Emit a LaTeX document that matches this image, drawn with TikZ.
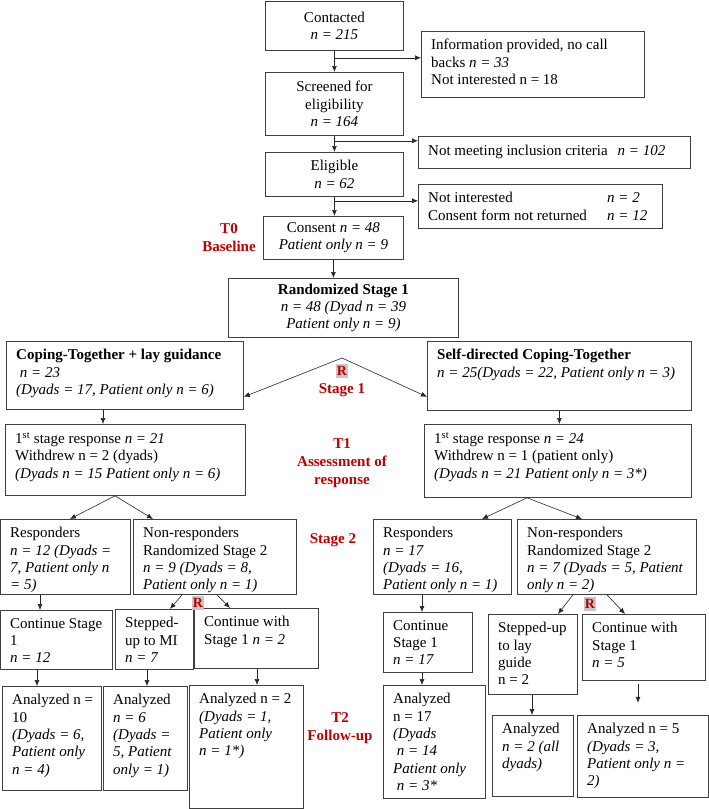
\documentclass[tikz,border=0pt]{standalone}
\usepackage{fontspec}
\setmainfont{Liberation Serif}
\usetikzlibrary{arrows.meta,calc}
\definecolor{lblred}{HTML}{C00000}
\tikzset{
 boxsty/.style={draw=black!75, line width=0.8pt, inner sep=0pt},
 txtsty/.style={align=left, inner sep=0pt, font=\fontsize{15}{17.4}\selectfont},
 ctxt/.style={align=center, inner sep=0pt, font=\fontsize{15}{17.4}\selectfont},
 arr/.style={-{Latex[length=6pt,width=5pt]}, line width=0.6pt, draw=black!85},
 lbl/.style={text=lblred, font=\fontsize{15}{18}\selectfont\bfseries, align=center, inner sep=0pt},
 rmark/.style={text=lblred, fill=black!22, font=\fontsize{14}{14}\selectfont\bfseries, inner xsep=1pt, inner ysep=2pt}
}
\newcommand{\mkbox}[5]{\node[boxsty, anchor=north west, minimum width={(#4)-(#2)}, minimum height={(#5)-(#3)}] (#1) at (#2,#3) {};}
\newcommand{\ltext}[2]{\node[txtsty, anchor=north west] (#1t) at ($(#1.north west)+(10,8)$) {#2};}
\newcommand{\ctext}[2]{\node[ctxt] (#1t) at (#1.center) {#2};}
\begin{document}
\begin{tikzpicture}[x=1pt,y=-1pt]
\useasboundingbox (0,0) rectangle (709,809);
% boxes
\mkbox{contacted}{265}{1}{403}{50}
\ctext{contacted}{Contacted\\ \textit{n = 215}}
\mkbox{info}{421}{31}{644}{97}
\ltext{info}{Information provided, no call\\ backs \textit{n = 33}\\ Not interested n = 18}
\mkbox{screened}{265}{72}{403}{135}
\ctext{screened}{Screened for\\ eligibility\\ \textit{n = 164}}
\mkbox{notmeet}{418}{136}{690}{168}
\node[txtsty, anchor=west] (notmeett) at ($(notmeet.west)+(10,0)$) {Not meeting inclusion criteria\hspace{10pt}\textit{n = 102}};
\mkbox{eligible}{265}{152}{403}{196}
\ctext{eligible}{Eligible\\ \textit{n = 62}}
\mkbox{notint}{418}{184}{662}{228}
\node[txtsty, anchor=west] (notintt) at ($(notint.west)+(10,0)$) {\makebox[179pt][l]{Not interested}\textit{n = 2}\\ \makebox[179pt][l]{Consent form not returned}\textit{n = 12}};
\mkbox{consent}{263}{216}{403}{259}
\ctext{consent}{Consent \textit{n = 48}\\ \textit{Patient only n = 9}}
\mkbox{random}{228}{278}{458}{337}
\ctext{random}{\textbf{Randomized Stage 1}\\ \textit{n = 48 (Dyad n = 39}\\ \textit{Patient only n = 9)}}
\mkbox{coping}{6}{341}{243}{409}
\ltext{coping}{\textbf{Coping-Together + lay guidance}\\ \textit{ n = 23}\\ \textit{(Dyads = 17, Patient only n = 6)}}
\mkbox{self}{427}{341}{691}{410}
\ltext{self}{\textbf{Self-directed Coping-Together}\\ \textit{n = 25(Dyads = 22, Patient only n = 3)}}
\mkbox{s1l}{5}{424}{245}{495}
\ltext{s1l}{1\textsuperscript{st} stage response \textit{n = 21}\\ Withdrew n = 2 (dyads)\\ \textit{(Dyads n = 15 Patient only n = 6)}}
\mkbox{s1r}{424}{424}{691}{497}
\ltext{s1r}{1\textsuperscript{st} stage response \textit{n = 24}\\ Withdrew n = 1 (patient only)\\ \textit{(Dyads n = 21 Patient only n = 3*)}}
\mkbox{respl}{0}{519}{130}{594}
\ltext{respl}{Responders\\ \textit{n = 12 (Dyads =}\\ \textit{7, Patient only n}\\ \textit{= 5)}}
\mkbox{nonrl}{133}{519}{296}{594}
\ltext{nonrl}{Non-responders\\ Randomized Stage 2\\ \textit{n = 9 (Dyads = 8,}\\ \textit{Patient only n = 1)}}
\mkbox{respr}{373}{519}{511}{594}
\ltext{respr}{Responders\\ \textit{n = 17}\\ \textit{(Dyads = 16,}\\ \textit{Patient only n = 1)}}
\mkbox{nonrr}{517}{519}{696}{594}
\ltext{nonrr}{Non-responders\\ Randomized Stage 2\\ \textit{n = 7 (Dyads = 5, Patient}\\ \textit{only n = 2)}}
\mkbox{contl}{0}{610}{112}{669}
\ltext{contl}{Continue Stage\\ 1\\ \textit{n = 12}}
\mkbox{stepmi}{115}{609}{193}{669}
\ltext{stepmi}{Stepped-\\ up to MI\\ \textit{n = 7}}
\mkbox{contn2}{194}{608}{318}{668}
\ltext{contn2}{Continue with\\ Stage 1 \textit{n = 2}}
\mkbox{anl}{2}{686}{101}{790}
\ltext{anl}{Analyzed n =\\ 10\\ \textit{(Dyads = 6,}\\ \textit{Patient only}\\ \textit{n = 4)}}
\mkbox{an6}{103}{686}{187}{790}
\ltext{an6}{Analyzed\\ \textit{n = 6}\\ \textit{(Dyads =}\\ \textit{5, Patient}\\ \textit{only = 1)}}
\mkbox{an2}{189}{685}{303}{808}
\ltext{an2}{Analyzed n = 2\\ \textit{(Dyads = 1,}\\ \textit{Patient only}\\ \textit{n = 1*)}}
\mkbox{contr}{383}{612}{472}{672}
\ltext{contr}{Continue\\ Stage 1\\ \textit{n = 17}}
\mkbox{an17}{383}{685}{485}{798}
\ltext{an17}{Analyzed\\ n = 17\\ \textit{(Dyads}\\ \textit{\ n = 14}\\ \textit{Patient only}\\ \textit{\ n = 3*}}
\mkbox{steplay}{488}{614}{577}{694}
\ltext{steplay}{Stepped-up\\ to lay\\ guide\\ n = 2}
\mkbox{contn5}{582}{614}{705}{680}
\ltext{contn5}{Continue with\\ Stage 1\\ \textit{n = 5}}
\mkbox{anall}{492}{715}{573}{796}
\ltext{anall}{Analyzed\\ \textit{n = 2 (all}\\ \textit{dyads)}}
\mkbox{an5}{577}{715}{708}{797}
\ltext{an5}{Analyzed n = 5\\ \textit{(Dyads = 3,}\\ \textit{Patient only n =}\\ \textit{2)}}
% labels
\node[lbl] (t0) at (229,238) {T0\\Baseline};
\node[lbl] (stage1) at (342,390) {Stage 1};
\node[lbl] (t1) at (342,463) {T1\\Assessment of\\response};
\node[lbl] (stage2) at (333,540) {Stage 2};
\node[lbl] (t2) at (340,728) {T2\\Follow-up};
\node[rmark] (r1m) at (342,371) {R};
\node[rmark] (r2m) at (198,603) {R};
\node[rmark] (r3m) at (590,604) {R};
% top arrows
\draw[arr] (contacted.south) -- (contacted.south |- screened.north);
\coordinate (k1) at ($(contacted.south)+(0,7)$);
\draw[arr] (k1) -- (k1 -| info.west);
\draw[arr] (screened.south) -- (screened.south |- eligible.north);
\coordinate (k2) at ($(screened.south)+(0,5)$);
\draw[arr] (k2) -- (k2 -| notmeet.west);
\draw[arr] (eligible.south) -- (eligible.south |- consent.north);
\coordinate (k3) at ($(eligible.south)+(0,4)$);
\draw[arr] (k3) -- (k3 -| notint.west);
\draw[arr] (consent.south) -- (consent.south |- random.north);
% stage 1 randomization
\coordinate (r1) at (342,358);
\draw[arr] (r1) -- ([yshift=13pt]coping.south east);
\draw[arr] (r1) -- ([yshift=14pt]self.south west);
\coordinate (cs) at ($(coping.south west)+(97,0)$);
\draw[arr] (cs) -- (cs |- s1l.north);
\draw[arr] (self.south) -- (self.south |- s1r.north);
% splits after T1
\coordinate (sl) at ($(s1l.south west)+(110,0)$);
\draw[arr] (sl) -- ($(respl.north west)+(70,0)$);
\draw[arr] (sl) -- ($(nonrl.north west)+(20,0)$);
\coordinate (sr) at ($(s1r.south west)+(103,0)$);
\draw[arr] (sr) -- ($(respr.north west)+(109,0)$);
\draw[arr] (sr) -- ($(nonrr.north west)+(65,0)$);
% stage 2 left
\coordinate (rl) at ($(respl.south west)+(40,0)$);
\draw[arr] (rl) -- (rl |- contl.north);
\draw[arr] ($(nonrl.south west)+(49,0)$) -- ($(stepmi.north west)+(55,0)$);
\draw[arr] ($(nonrl.south west)+(84,0)$) -- ($(contn2.north west)+(36,0)$);
\coordinate (cl) at ($(contl.south west)+(37,0)$);
\draw[arr] (cl) -- (cl |- anl.north);
\coordinate (sm) at ($(stepmi.south west)+(32,0)$);
\draw[arr] (sm) -- (sm |- an6.north);
\coordinate (c2) at ($(contn2.south west)+(63,0)$);
\draw[arr] (c2) -- (c2 |- an2.north);
% stage 2 right
\coordinate (rr) at ($(respr.south west)+(49,0)$);
\draw[arr] (rr) -- (rr |- contr.north);
\coordinate (cr) at ($(contr.south west)+(39,0)$);
\draw[arr] (cr) -- (cr |- an17.north);
\draw[arr] ($(nonrr.south west)+(56,0)$) -- ($(steplay.north west)+(70,0)$);
\draw[arr] ($(nonrr.south west)+(90,0)$) -- ($(contn5.north west)+(43,0)$);
\coordinate (sl2) at ($(steplay.south west)+(44,0)$);
\draw[arr] (sl2) -- (sl2 |- anall.north);
\coordinate (c5a) at ($(contn5.south west)+(56,3)$);
\coordinate (c5b) at ($(contn5.south west)+(56,22)$);
\draw[arr] (c5a) -- (c5b);
\end{tikzpicture}
\end{document}
